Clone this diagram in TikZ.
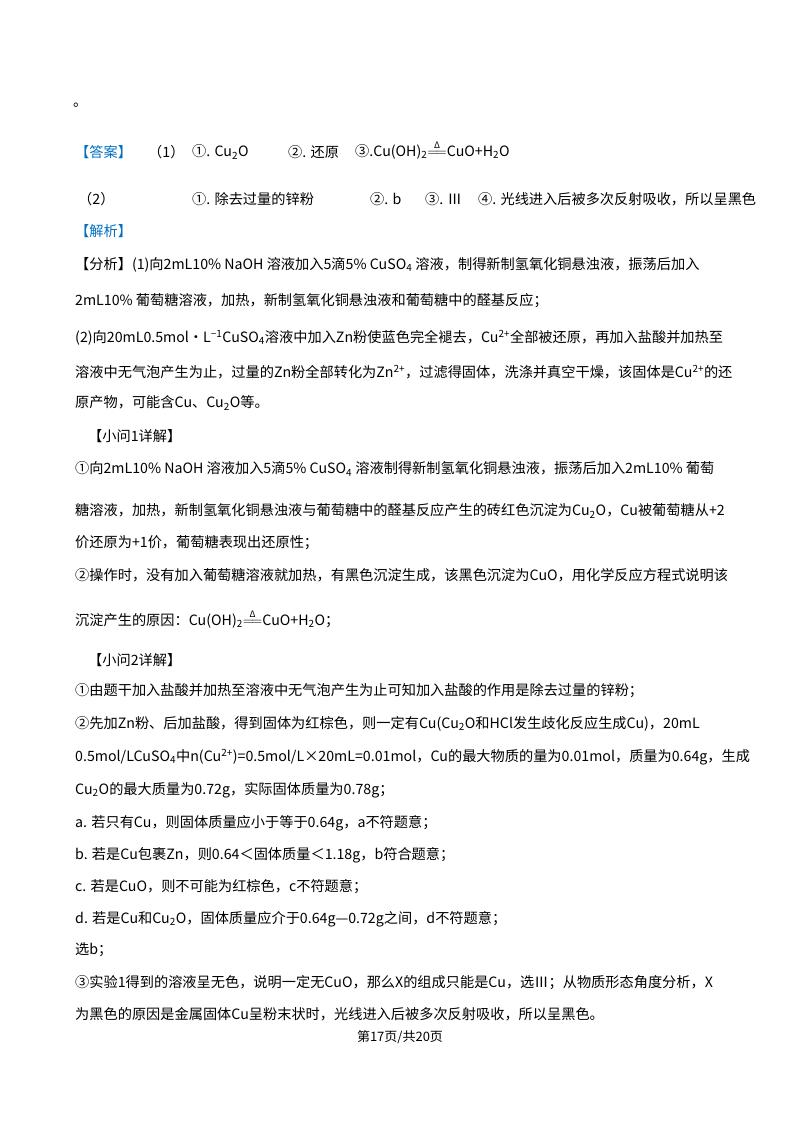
\documentclass[tikz,border=0pt]{standalone}
\usepackage{fontspec}
\setmainfont{Noto Sans CJK SC}
\usepackage{amsmath}
\definecolor{ansblue}{RGB}{0,112,192}
\newcommand{\dl}{{\fontsize{9}{9}\selectfont Δ}}
\newcommand{\eqn}{Cu(OH)\textsubscript{2}$\stackrel{\mbox{\dl}}{=\!=}$CuO+H\textsubscript{2}O}
\newcommand{\sbs}[1]{\textsubscript{#1}}
\newcommand{\sps}[1]{\textsuperscript{#1}}
\begin{document}
\begin{tikzpicture}[x=1pt,y=1pt,
  ln/.style={anchor=west,inner sep=0pt,font=\fontsize{14.2}{17}\selectfont}]
\useasboundingbox[fill=white] (0,0) rectangle (800,-1132);
\node[ln] (l1) at (73,-105) {。};
\node[ln,text=ansblue] (l2a) at (75,-152) {【答案】};
\node[ln] (l2b) at (148,-152) {（1）};
\node[ln] (l2c) at (192,-152) {①. Cu\sbs{2}O};
\node[ln] (l2d) at (288,-152) {②. 还原};
\node[ln] (l2e) at (355,-150) {③.\eqn};
\node[ln] (l3a) at (78,-199) {（2）};
\node[ln] (l3b) at (192,-199) {①. 除去过量的锌粉};
\node[ln] (l3c) at (370,-199) {②. b};
\node[ln] (l3d) at (425,-199) {③. Ⅲ};
\node[ln] (l3e) at (478,-199) {④. 光线进入后被多次反射吸收，所以呈黑色};
\node[ln,text=ansblue] (l4) at (75,-231) {【解析】};
\node[ln] (l5) at (75,-265) {【分析】(1)向2mL10\% NaOH 溶液加入5滴5\% CuSO\sbs{4} 溶液，制得新制氢氧化铜悬浊液，振荡后加入};
\node[ln] (l6) at (75,-301) {2mL10\% 葡萄糖溶液，加热，新制氢氧化铜悬浊液和葡萄糖中的醛基反应；};
\node[ln] (l7) at (75,-338) {(2)向20mL0.5mol·L\sps{−1}CuSO\sbs{4}溶液中加入Zn粉使蓝色完全褪去，Cu\sps{2+}全部被还原，再加入盐酸并加热至};
\node[ln] (l8) at (75,-372) {溶液中无气泡产生为止，过量的Zn粉全部转化为Zn\sps{2+}，过滤得固体，洗涤并真空干燥，该固体是Cu\sps{2+}的还};
\node[ln] (l9) at (75,-403) {原产物，可能含Cu、Cu\sbs{2}O等。};
\node[ln] (l10) at (88,-436) {【小问1详解】};
\node[ln] (l11) at (75,-469) {①向2mL10\% NaOH 溶液加入5滴5\% CuSO\sbs{4} 溶液制得新制氢氧化铜悬浊液，振荡后加入2mL10\% 葡萄};
\node[ln] (l12) at (75,-511) {糖溶液，加热，新制氢氧化铜悬浊液与葡萄糖中的醛基反应产生的砖红色沉淀为Cu\sbs{2}O，Cu被葡萄糖从+2};
\node[ln] (l13) at (75,-543) {价还原为+1价，葡萄糖表现出还原性；};
\node[ln] (l14) at (75,-575) {②操作时，没有加入葡萄糖溶液就加热，有黑色沉淀生成，该黑色沉淀为CuO，用化学反应方程式说明该};
\node[ln] (l15) at (75,-619) {沉淀产生的原因：\eqn ；};
\node[ln] (l16) at (88,-660) {【小问2详解】};
\node[ln] (l17) at (75,-691) {①由题干加入盐酸并加热至溶液中无气泡产生为止可知加入盐酸的作用是除去过量的锌粉；};
\node[ln] (l18) at (75,-724) {②先加Zn粉、后加盐酸，得到固体为红棕色，则一定有Cu(Cu\sbs{2}O和HCl发生歧化反应生成Cu)，20mL};
\node[ln] (l19) at (75,-757) {0.5mol/LCuSO\sbs{4}中n(Cu\sps{2+})=0.5mol/L×20mL=0.01mol，Cu的最大物质的量为0.01mol，质量为0.64g，生成};
\node[ln] (l20) at (75,-790) {Cu\sbs{2}O的最大质量为0.72g，实际固体质量为0.78g；};
\node[ln] (l21) at (75,-823) {a. 若只有Cu，则固体质量应小于等于0.64g，a不符题意；};
\node[ln] (l22) at (75,-855) {b. 若是Cu包裹Zn，则0.64＜固体质量＜1.18g，b符合题意；};
\node[ln] (l23) at (75,-887) {c. 若是CuO，则不可能为红棕色，c不符题意；};
\node[ln] (l24) at (75,-919) {d. 若是Cu和Cu\sbs{2}O，固体质量应介于0.64g—0.72g之间，d不符题意；};
\node[ln] (l25) at (75,-950) {选b；};
\node[ln] (l26) at (75,-983) {③实验1得到的溶液呈无色，说明一定无CuO，那么X的组成只能是Cu，选Ⅲ；从物质形态角度分析，X};
\node[ln] (l27) at (75,-1014) {为黑色的原因是金属固体Cu呈粉末状时，光线进入后被多次反射吸收，所以呈黑色。};
\node[inner sep=0pt,font=\fontsize{13}{15}\selectfont] (ft) at (400,-1037) {第17页/共20页};
\end{tikzpicture}
\end{document}
